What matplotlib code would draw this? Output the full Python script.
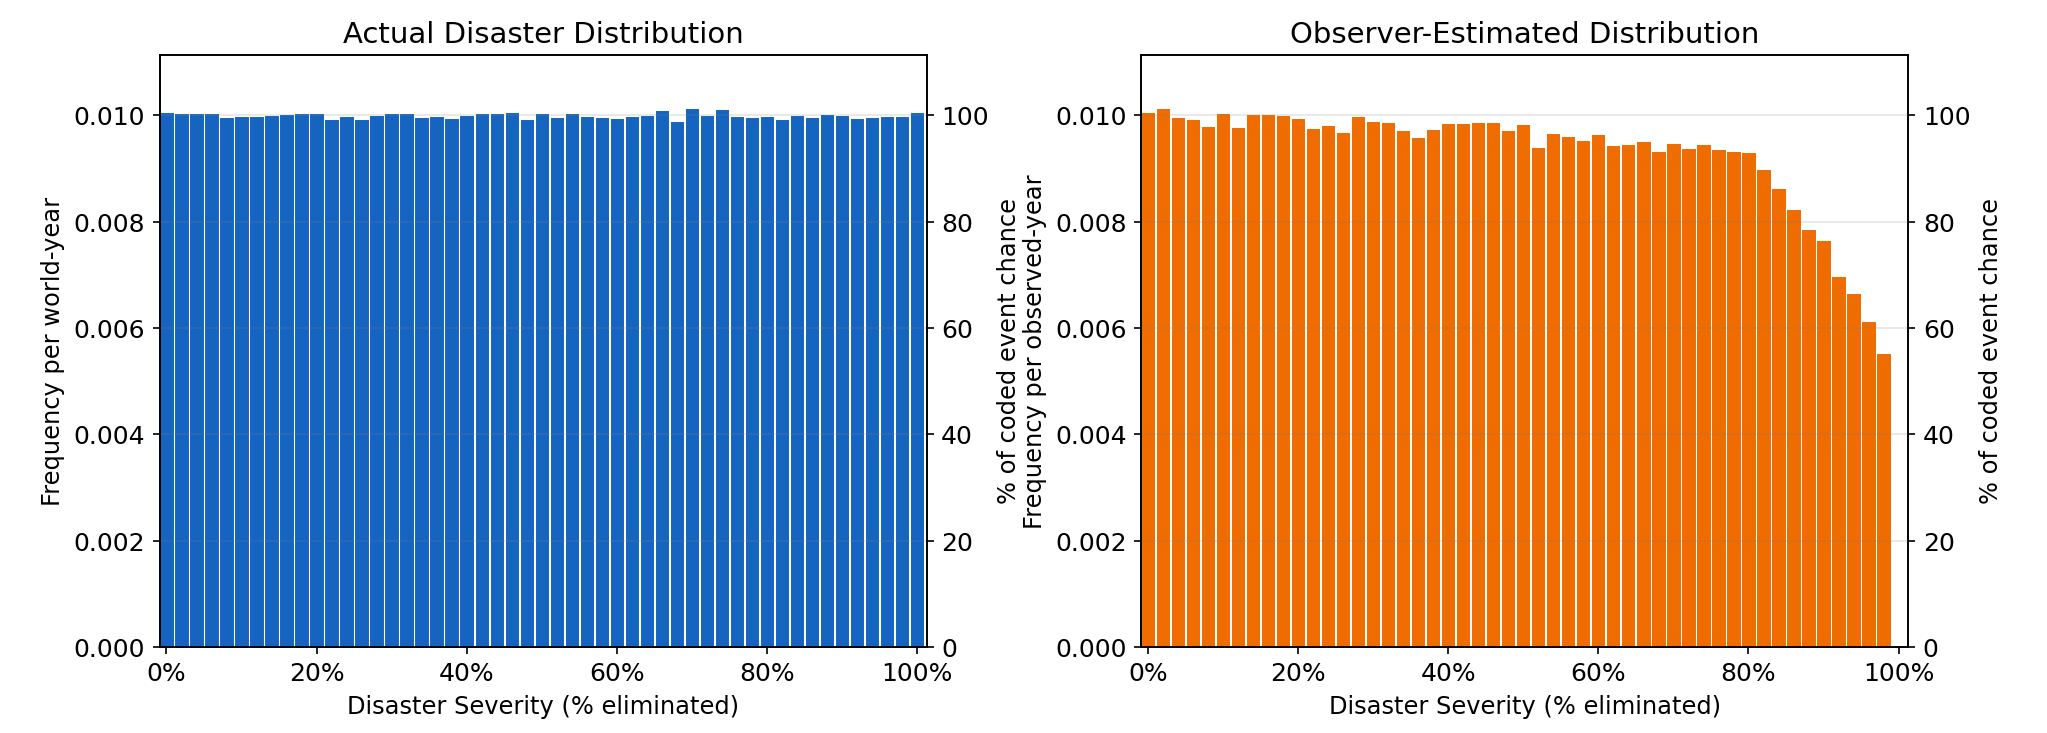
import matplotlib
matplotlib.use("Agg")
import matplotlib.pyplot as plt
from matplotlib.ticker import FuncFormatter

# severity bins (% eliminated), one bar per 2%
severity = list(range(0, 101, 2))

actual_freq = [
    0.010057, 0.010038, 0.010038, 0.010038, 0.009962, 0.009975, 0.009975, 0.009994,
    0.010013, 0.010031, 0.010038, 0.009925, 0.009975, 0.009925, 0.009994, 0.010038,
    0.010044, 0.009962, 0.009981, 0.009943, 0.010006, 0.010031, 0.010031, 0.010057,
    0.009925, 0.010031, 0.009962, 0.010031, 0.009981, 0.009962, 0.009943, 0.009981,
    0.009994, 0.010094, 0.009893, 0.010126, 0.009994, 0.010113, 0.009980, 0.009970,
    0.009990, 0.009920, 0.010000, 0.009970, 0.010020, 0.010010, 0.009940, 0.009970,
    0.009990, 0.009980, 0.010050,
]

observed_freq = [
    0.010063, 0.010126, 0.009962, 0.009925, 0.009792, 0.010031, 0.009774, 0.010013,
    0.010013, 0.009994, 0.009943, 0.009761, 0.009811, 0.009679, 0.009981, 0.009880,
    0.009862, 0.009711, 0.009597, 0.009748, 0.009849, 0.009849, 0.009870, 0.009870,
    0.009720, 0.009830, 0.009400, 0.009670, 0.009610, 0.009540, 0.009650, 0.009430,
    0.009450, 0.009520, 0.009330, 0.009480, 0.009380, 0.009460, 0.009360, 0.009330,
    0.009300, 0.008990, 0.008630, 0.008240, 0.007860, 0.007650, 0.006980, 0.006650,
    0.006130, 0.005520, 0.0,
]

base_rate = 0.01  # coded event chance per bin

panels = [
    ("Actual Disaster Distribution", actual_freq, "#1565C0", "Frequency per world-year"),
    ("Observer-Estimated Distribution", observed_freq, "#EF6C00", "Frequency per observed-year"),
]

fig, axes = plt.subplots(1, 2, figsize=(13.65, 4.89), dpi=150)
fig.subplots_adjust(left=0.078, right=0.932, top=0.925, bottom=0.117, wspace=0.28)

ymax = max(max(actual_freq), max(observed_freq)) * 1.1

for ax, (title, freq, color, ylabel) in zip(axes, panels):
    ax.bar(severity, freq, width=1.9, color=color, edgecolor="white", linewidth=0.5)
    ax.set_xlim(-0.9, 101.3)
    ax.set_ylim(0, ymax)
    ax.set_xticks(range(0, 101, 20))
    ax.xaxis.set_major_formatter(FuncFormatter(lambda v, p: f"{v:.0f}%"))
    ax.yaxis.set_major_formatter(FuncFormatter(lambda v, p: f"{v:.3f}"))
    ax.set_title(title, fontsize=14)
    ax.set_xlabel("Disaster Severity (% eliminated)", fontsize=11.6)
    ax.set_ylabel(ylabel, fontsize=11.6)
    ax.tick_params(labelsize=12)

    ax2 = ax.twinx()
    ax2.set_ylim(0, ymax / base_rate * 100)
    ax2.set_yticks(range(0, 101, 20))
    ax2.set_ylabel("% of coded event chance", fontsize=11.6)
    ax2.tick_params(labelsize=12)
    ax2.grid(axis="y", color="gray", alpha=0.2, linewidth=0.8)

fig.savefig("out.png", dpi=150)
